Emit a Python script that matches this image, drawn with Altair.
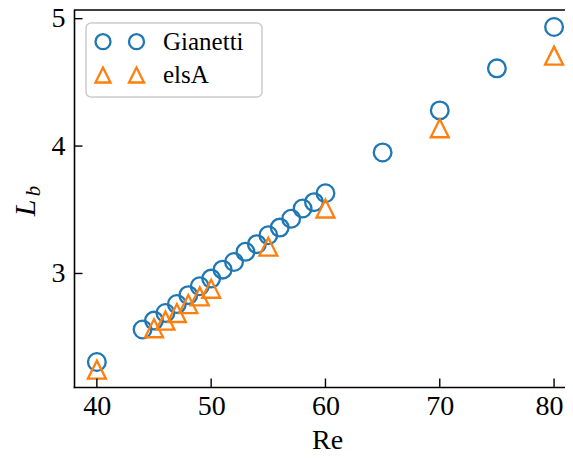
import altair as alt
import pandas as pd

# ---- data ----
re_gianetti = [40, 44, 45, 46, 47, 48, 49, 50, 51, 52, 53, 54, 55, 56, 57, 58, 59, 60, 65, 70, 75, 80]
lb_gianetti = [2.305, 2.56, 2.63, 2.69, 2.76, 2.83, 2.90, 2.96, 3.03, 3.09, 3.17, 3.23, 3.30, 3.36, 3.43, 3.51, 3.56, 3.63, 3.95, 4.28, 4.61, 4.935]
re_elsa = [40, 45, 46, 47, 48, 49, 50, 55, 60, 70, 80]
lb_elsa = [2.245, 2.57, 2.63, 2.69, 2.76, 2.82, 2.88, 3.21, 3.51, 4.14, 4.71]
x_ticks = [40, 50, 60, 70, 80]
y_ticks = [3, 4, 5]
legend_labels = ["Gianetti", "elsA"]

# ---- style ----
W, H = 491, 377
SERIF = "Liberation Serif"
BLUE = "#1f77b4"
ORANGE = "#ff7f0e"
TRI = "M0,-1L-1,1L1,1Z"
x_scale = alt.Scale(domain=[38, 38 + W / 11.43], nice=False, zero=False)
y_scale = alt.Scale(domain=[2.109, 5.068], nice=False, zero=False)
x_axis = alt.Axis(values=x_ticks, title="Re", ticks=False, tickSize=0, grid=False,
                  labelPadding=5, titleX=253, titleY=61, titleBaseline="alphabetic",
                  titleAnchor="start", titleAlign="center",
                  labelOffset={"condition": {"test": "datum.value == 80", "value": -5}, "value": 0})
y_axis = alt.Axis(values=y_ticks, title=None, ticks=False, tickSize=0, grid=False,
                  labelPadding=9)

g_df = pd.DataFrame({"Re": re_gianetti, "Lb": lb_gianetti})
e_df = pd.DataFrame({"Re": re_elsa, "Lb": lb_elsa})
one = pd.DataFrame({"a": [0]})

circles = alt.Chart(g_df).mark_point(
    shape="circle", size=313, filled=False, stroke=BLUE, strokeWidth=2.3, opacity=1
).encode(
    x=alt.X("Re:Q", scale=x_scale, axis=x_axis),
    y=alt.Y("Lb:Q", scale=y_scale, axis=y_axis),
)

triangles = alt.Chart(e_df).mark_point(
    shape=TRI, size=324, filled=False, stroke=ORANGE, strokeWidth=2.3, opacity=1
).encode(
    x=alt.X("Re:Q", scale=x_scale, axis=x_axis),
    y=alt.Y("Lb:Q", scale=y_scale, axis=y_axis),
)

# inward ticks
xt = alt.Chart(pd.DataFrame({"Re": x_ticks})).mark_rule(color="black", strokeWidth=1.4).encode(
    x=alt.X("Re:Q", scale=x_scale, axis=x_axis), y=alt.value(H), y2=alt.value(H - 8.5)
)
yt = alt.Chart(pd.DataFrame({"Lb": y_ticks})).mark_rule(color="black", strokeWidth=1.4).encode(
    y=alt.Y("Lb:Q", scale=y_scale, axis=y_axis), x=alt.value(0), x2=alt.value(8.5)
)
top_spine = alt.Chart(one).mark_rule(color="black", strokeWidth=1.6).encode(
    x=alt.value(0), x2=alt.value(W), y=alt.value(0)
)

# y title  L_b
ylab_L = alt.Chart(pd.DataFrame({"t": ["L"]})).mark_text(
    angle=270, font=SERIF, fontSize=30, fontStyle="italic", baseline="alphabetic", align="center",
    color="black"
).encode(text="t:N", x=alt.value(-39), y=alt.value(198))
ylab_b = alt.Chart(pd.DataFrame({"t": ["b"]})).mark_text(
    angle=270, font=SERIF, fontSize=21, fontStyle="italic", baseline="alphabetic", align="center",
    color="black"
).encode(text="t:N", x=alt.value(-34), y=alt.value(181))

# legend
leg_box = alt.Chart(one).mark_rect(
    fill="white", fillOpacity=0.8, stroke="#cccccc", strokeWidth=1.5, cornerRadius=5
).encode(x=alt.value(12), x2=alt.value(188), y=alt.value(13), y2=alt.value(87))

leg_layers = [leg_box]
leg_rows = [31.7, 65.0]
leg_styles = [dict(shape="circle", stroke=BLUE), dict(shape=TRI, stroke=ORANGE)]
for label, ry, st in zip(legend_labels, leg_rows, leg_styles):
    for rx in (29, 62.5):
        leg_layers.append(
            alt.Chart(one).mark_point(size=225, filled=False, strokeWidth=2.3, opacity=1, **st)
            .encode(x=alt.value(rx), y=alt.value(ry))
        )
    leg_layers.append(
        alt.Chart(pd.DataFrame({"t": [label]})).mark_text(
            font=SERIF, fontSize=25, align="left", baseline="alphabetic", color="black"
        ).encode(text="t:N", x=alt.value(89), y=alt.value(ry + 8.3))
    )

chart = alt.layer(
    circles, triangles, xt, yt, top_spine, ylab_L, ylab_b, *leg_layers
).properties(
    width=W, height=H,
    autosize=alt.AutoSizeParams(type="none"),
    padding={"left": 66, "top": 2, "right": 0, "bottom": 63},
).configure_view(stroke=None).configure_axis(
    domainColor="black", domainWidth=1.6, domainCap="square",
    labelFont=SERIF, labelFontSize=28, labelColor="black",
    titleFont=SERIF, titleFontSize=28, titleColor="black", titleFontWeight="normal",
)

chart.save("out.html", embed_options={"renderer": "svg", "actions": False})
